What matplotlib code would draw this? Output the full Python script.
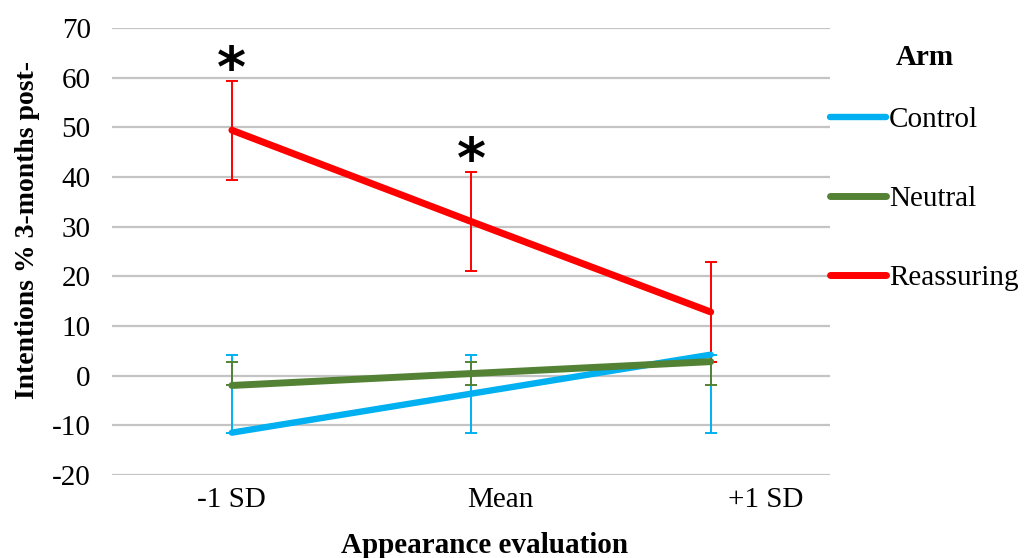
import matplotlib.pyplot as plt

plt.rcParams["font.family"] = ["Liberation Serif", "DejaVu Serif"]
plt.rcParams["axes.unicode_minus"] = False

x_labels = ["-1 SD", "Mean", "+1 SD"]
x_pos = [0, 1, 2]
label_pos = [0, 1.12, 2.23]     # excel put the tick labels a bit off

control = [-11.5, -3.65, 4.2]
control_lo = [0, 7.85, 15.7]
control_hi = [15.7, 7.85, 0]

neutral = [-2.0, 0.4, 2.8]
neutral_lo = [0, 2.4, 4.8]
neutral_hi = [4.8, 2.4, 0]

reassuring = [49.4, 31.0, 12.8]
reassuring_lo = [10, 10, 10]
reassuring_hi = [10, 10, 10]

star_x = [0, 1]
star_y = [61.3, 43.0]

series = [
    ("Control", control, control_lo, control_hi, "#00B0F0", 4.6),
    ("Neutral", neutral, neutral_lo, neutral_hi, "#548235", 5.0),
    ("Reassuring", reassuring, reassuring_lo, reassuring_hi, "#FF0000", 5.0),
]

FS = 21

fig = plt.figure(figsize=(10.29, 5.58), dpi=100)
ax = fig.add_axes([0.109, 0.149, 0.698, 0.801])

for name, vals, lo, hi, col, lw in series:
    ax.errorbar(x_pos, vals, yerr=[lo, hi], fmt="none", ecolor=col,
                elinewidth=1.4, capsize=4.5, capthick=1.4, zorder=3)
    ax.plot(x_pos, vals, color=col, lw=lw, solid_capstyle="round",
            label=name, zorder=4)

for sx, sy in zip(star_x, star_y):
    ax.text(sx, sy, "*", ha="center", va="center", fontsize=40,
            family="DejaVu Sans", fontweight="bold")

ax.set_xlim(-0.5, 2.5)
ax.set_ylim(-20, 70)
ax.set_yticks(range(-20, 71, 10))
ax.set_xticks(label_pos)
ax.set_xticklabels(x_labels)
ax.tick_params(axis="both", length=0, labelsize=FS)
ax.tick_params(axis="y", pad=15.5)
ax.tick_params(axis="x", pad=9)
ax.grid(axis="y", color="#c4c4c4", lw=1.6)
ax.set_axisbelow(True)
for s in ax.spines.values():
    s.set_visible(False)

ax.set_xlabel("Appearance evaluation", fontsize=FS, fontweight="bold")
ax.xaxis.set_label_coords(0.518, -0.127)
ax.set_ylabel("Intentions % 3-months post-", fontsize=20, fontweight="bold")
ax.yaxis.set_label_coords(-0.100, 0.548)

leg = ax.legend(loc="upper left", bbox_to_anchor=(1.0, 0.965), frameon=False,
                fontsize=FS, title="Arm", handlelength=1.9, handletextpad=0.1,
                labelspacing=1.8, borderaxespad=0, borderpad=0,
                title_fontproperties={"weight": "bold", "size": FS})
leg._legend_box.sep = 26

fig.savefig("out.png", dpi=100)
